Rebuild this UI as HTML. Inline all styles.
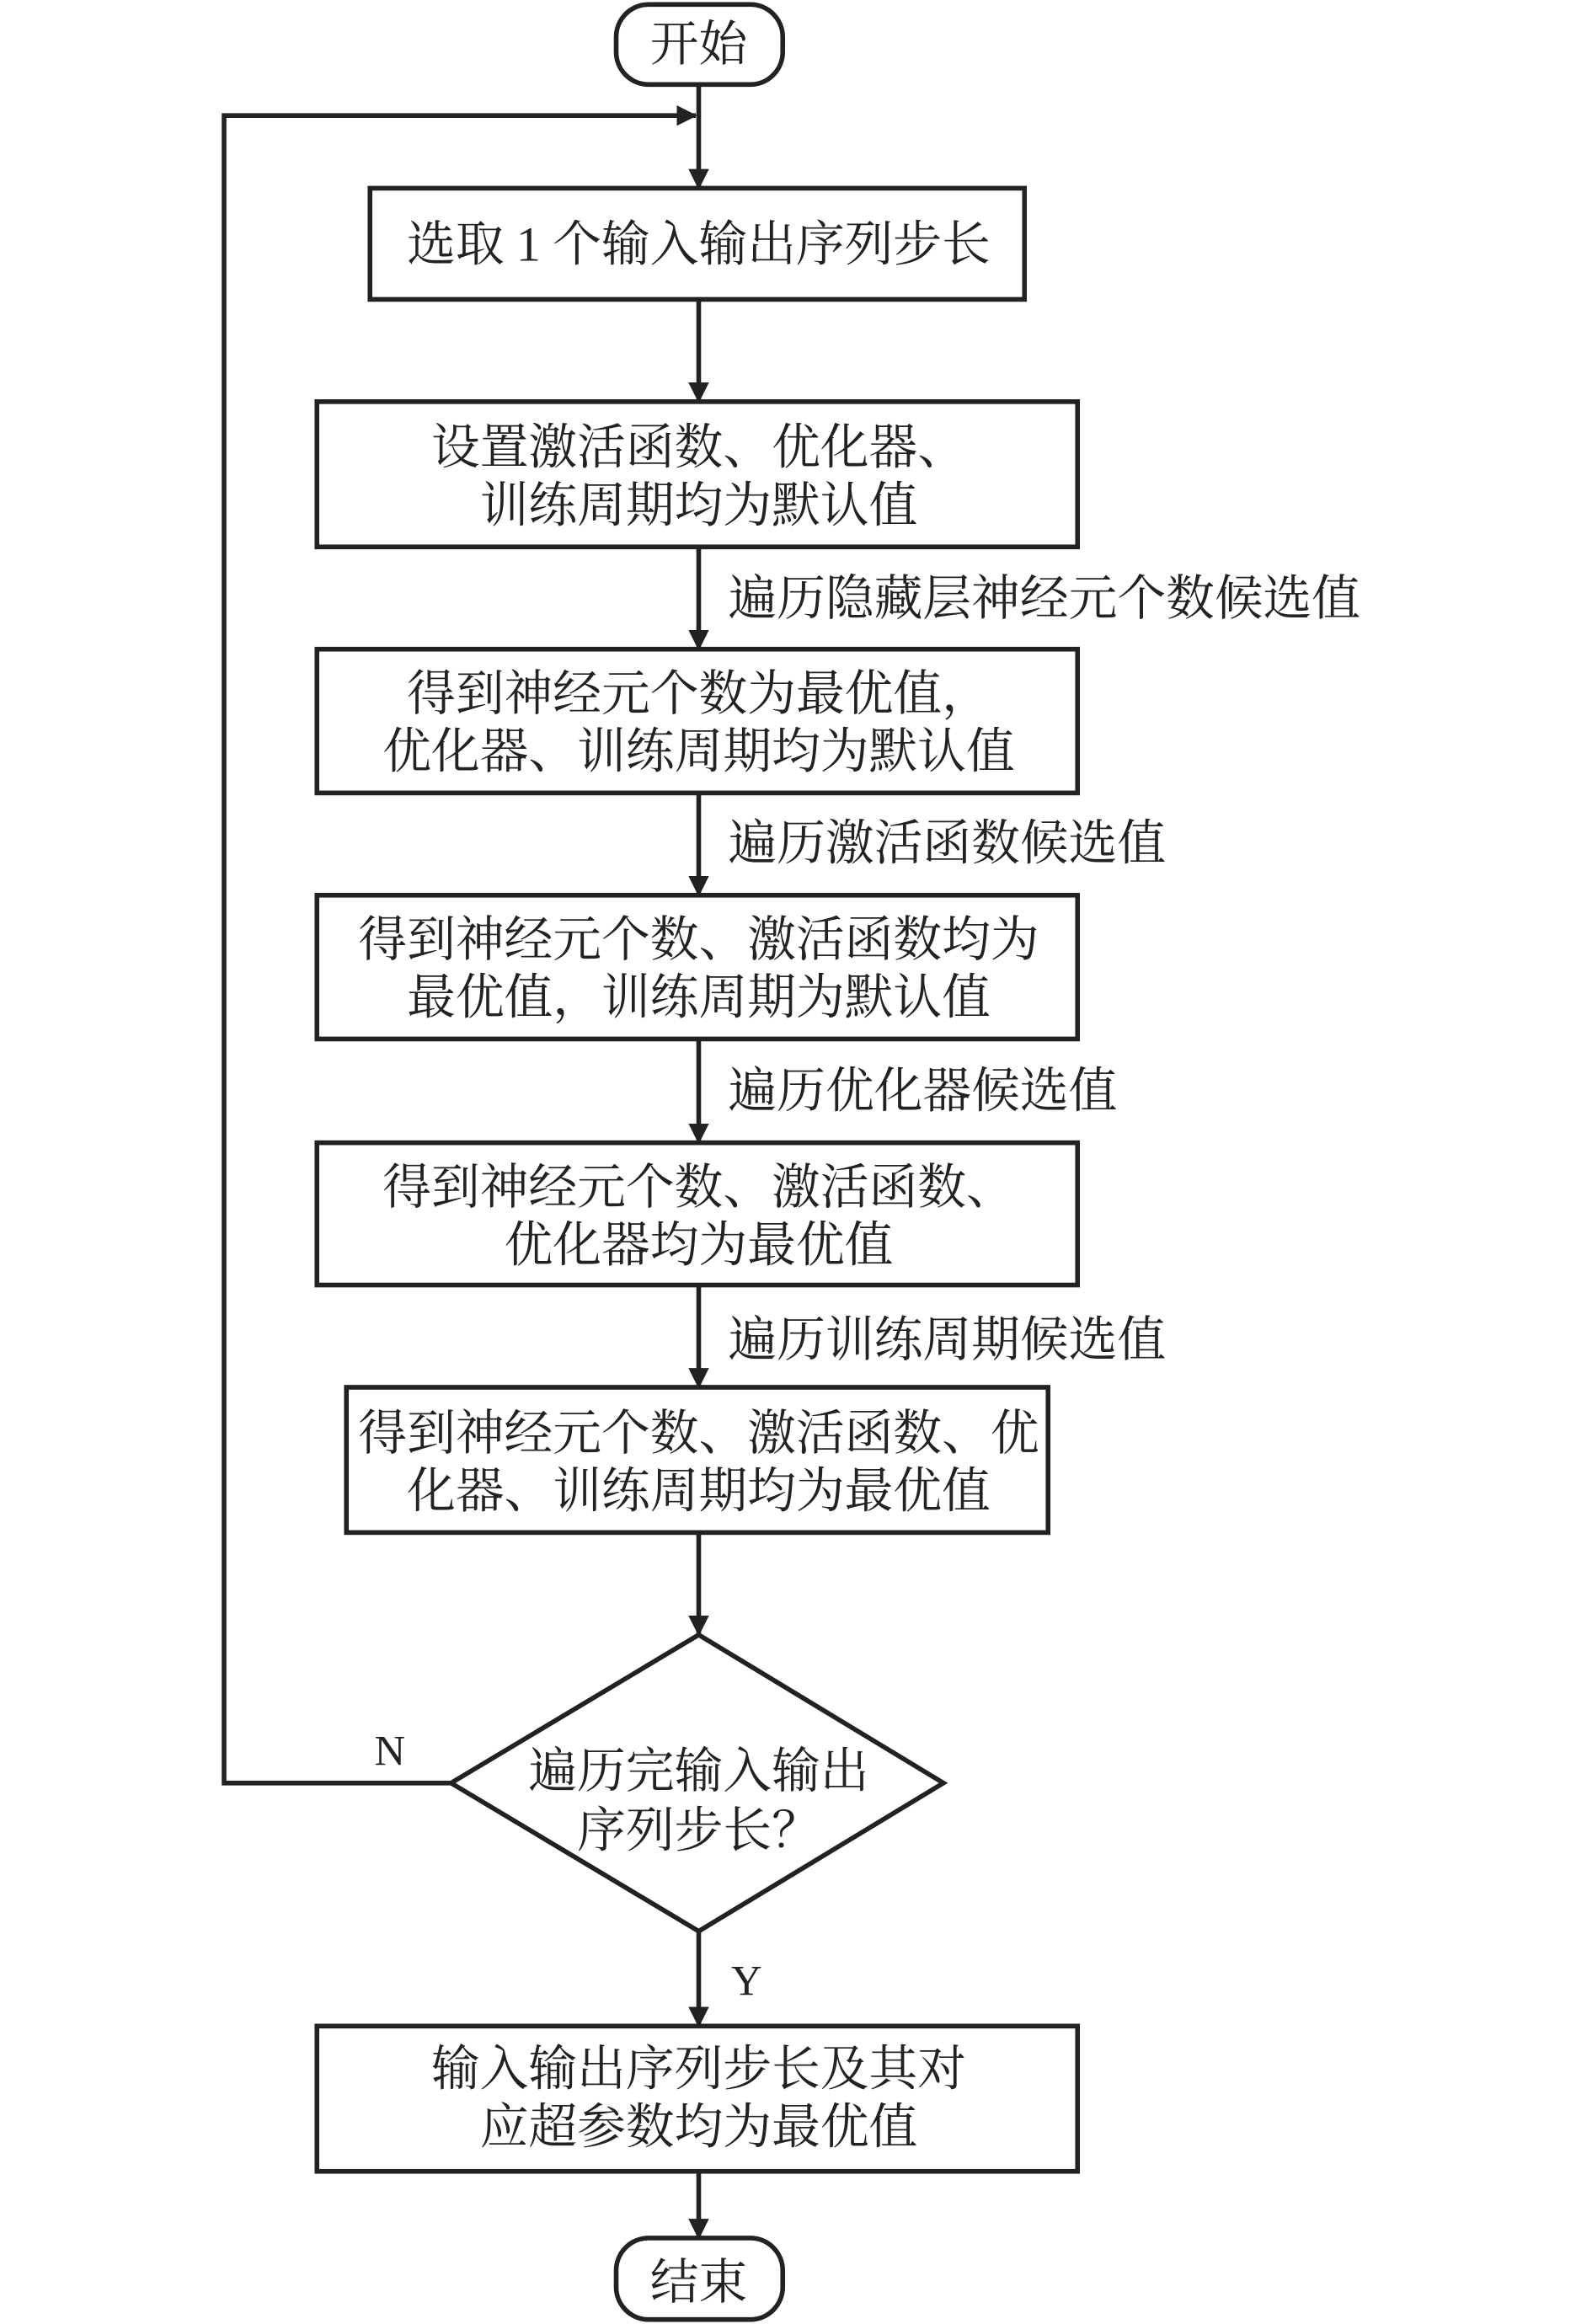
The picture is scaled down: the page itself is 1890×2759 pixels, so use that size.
<!DOCTYPE html>
<html><head><meta charset="utf-8"><style>
html,body{margin:0;padding:0;background:#fff;}
svg{display:block;}
text{font-family:"Liberation Serif","Noto Serif CJK SC",serif;font-size:33px;fill:#222;}
</style></head><body>
<svg width="1890" height="2759" viewBox="0 0 1080 1568" preserveAspectRatio="none" xmlns="http://www.w3.org/2000/svg">
<defs>
<marker id="b" markerWidth="14" markerHeight="30" refX="13" refY="7" orient="auto" markerUnits="userSpaceOnUse" viewBox="0 0 14 14"><path d="M0,0 L14,7 L0,14 z" fill="#222"/></marker></defs>
<g stroke="#222" stroke-width="3.2" fill="none">
<rect x="418" y="3" width="113" height="54" rx="22"/>
<rect x="251" y="127" width="444" height="75"/>
<rect x="215" y="271" width="516" height="98"/>
<rect x="215" y="438" width="516" height="97"/>
<rect x="215" y="604" width="516" height="97"/>
<rect x="215" y="771" width="516" height="96"/>
<rect x="235" y="936" width="476" height="98"/>
<polygon points="474,1103 640,1203 474,1303 306,1203"/>
<rect x="215" y="1367" width="516" height="98"/>
<rect x="418" y="1510" width="113" height="55" rx="22"/>
</g>
<g stroke="#222" stroke-width="3.2" fill="none">
<line x1="474" y1="57" x2="474" y2="127" marker-end="url(#b)"/>
<polyline points="306,1203 152,1203 152,78 472,78" marker-end="url(#b)"/>
<line x1="474" y1="202" x2="474" y2="271" marker-end="url(#b)"/>
<line x1="474" y1="369" x2="474" y2="438" marker-end="url(#b)"/>
<line x1="474" y1="535" x2="474" y2="604" marker-end="url(#b)"/>
<line x1="474" y1="701" x2="474" y2="771" marker-end="url(#b)"/>
<line x1="474" y1="867" x2="474" y2="936" marker-end="url(#b)"/>
<line x1="474" y1="1034" x2="474" y2="1103" marker-end="url(#b)"/>
<line x1="474" y1="1303" x2="474" y2="1367" marker-end="url(#b)"/>
<line x1="474" y1="1465" x2="474" y2="1510" marker-end="url(#b)"/>
</g>
<g text-anchor="middle">
<text x="474" y="41">开始</text>
<text x="474" y="176">选取 1 个输入输出序列步长</text>
<text x="474" y="313">设置激活函数、优化器、</text>
<text x="474" y="352">训练周期均为默认值</text>
<text x="474" y="479">得到神经元个数为最优值，</text>
<text x="474" y="518">优化器、训练周期均为默认值</text>
<text x="474" y="645">得到神经元个数、激活函数均为</text>
<text x="474" y="684">最优值，训练周期为默认值</text>
<text x="474" y="812">得到神经元个数、激活函数、</text>
<text x="474" y="851">优化器均为最优值</text>
<text x="474" y="978">得到神经元个数、激活函数、优</text>
<text x="474" y="1017">化器、训练周期均为最优值</text>
<text x="474" y="1206">遍历完输入输出</text>
<text x="474" y="1246">序列步长？</text>
<text x="474" y="1407">输入输出序列步长及其对</text>
<text x="474" y="1446">应超参数均为最优值</text>
<text x="474" y="1551">结束</text>
</g>
<text x="494" y="415">遍历隐藏层神经元个数候选值</text>
<text x="494" y="580">遍历激活函数候选值</text>
<text x="494" y="747">遍历优化器候选值</text>
<text x="494" y="915">遍历训练周期候选值</text>
<text x="254" y="1191" style="font-size:29px">N</text>
<text x="496" y="1346" style="font-size:29px">Y</text>
</svg>
</body></html>
